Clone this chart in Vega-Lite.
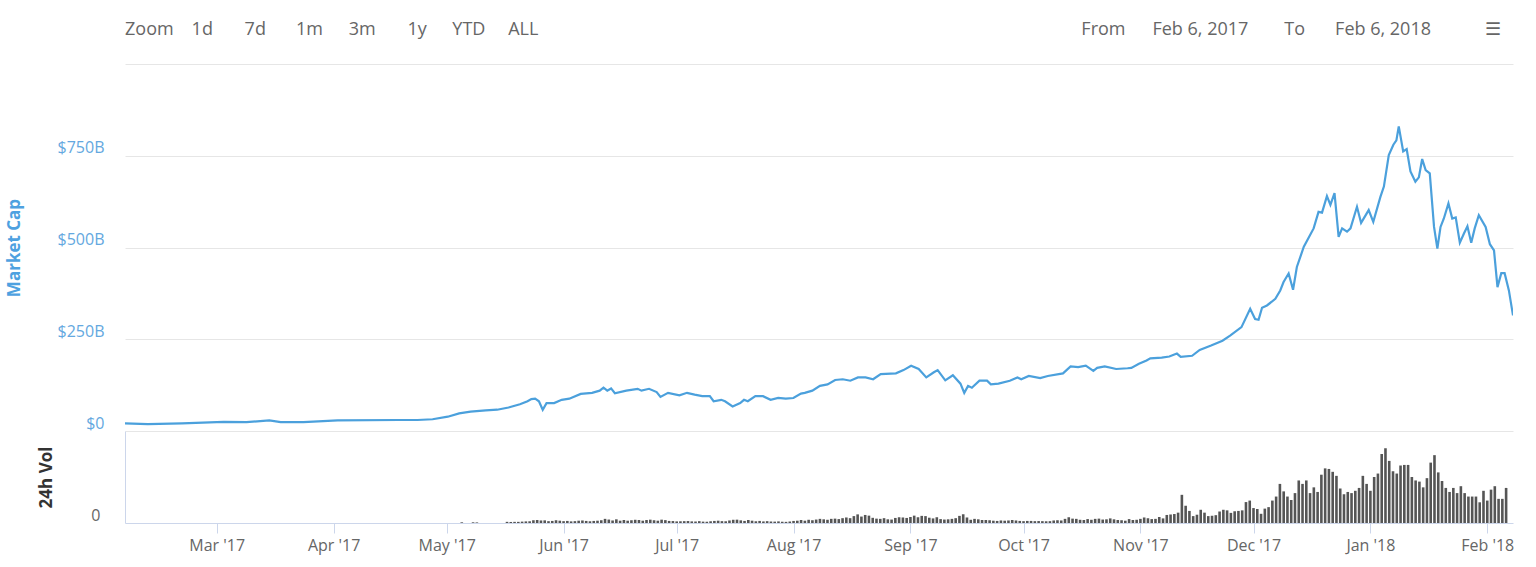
{
  "$schema": "https://vega.github.io/schema/vega-lite/v6.json",
  "background": "white",
  "padding": {"left": 5, "top": 21, "right": 10, "bottom": 5},
  "config": {"font": "Open Sans", "view": {"stroke": null}},
  "title": {
    "text": "Zoom\u20031d\u2003\u2002 7d\u2003\u2002\u20091m\u2003\u2009\u2009\u200a3m\u2003\u2002\u2009\u200a1y\u2003\u2009 YTD\u2003\u2009\u200aALL\u2003\u2003\u2003\u2003\u2003\u2003\u2003\u2003\u2003\u2003\u2003\u2003\u2003\u2003\u2003\u2003\u2003\u2003\u2003\u2003\u2003\u2003\u2003\u2003\u2003\u2003\u2003\u2003\u2003\u2003\u2009From\u2003\u2002Feb 6, 2017\u2003\u2003To\u2003\u2002\u2009Feb 6, 2018\u2003\u2003\u2002\u2002\u2630",
    "anchor": "start", "frame": "group", "fontSize": 18, "fontWeight": "normal", "color": "#666666", "offset": 25
  },
  "spacing": 0,
  "datasets": {
    "mcap": [
      {"d":"2017/02/06","c":21},{"d":"2017/02/12","c":19},{"d":"2017/02/21","c":21},{"d":"2017/03/04","c":25},
      {"d":"2017/03/10","c":24},{"d":"2017/03/16","c":29},{"d":"2017/03/19","c":24},{"d":"2017/03/25","c":24},
      {"d":"2017/04/03","c":29},{"d":"2017/04/19","c":30},{"d":"2017/04/24","c":30},{"d":"2017/04/28","c":32},
      {"d":"2017/05/02","c":39},{"d":"2017/05/05","c":48},{"d":"2017/05/08","c":53},{"d":"2017/05/12","c":56},
      {"d":"2017/05/15","c":58},{"d":"2017/05/18","c":64},{"d":"2017/05/21","c":73},{"d":"2017/05/23","c":81},
      {"d":"2017/05/24","c":87},{"d":"2017/05/25","c":88},{"d":"2017/05/26","c":81},{"d":"2017/05/27","c":58},
      {"d":"2017/05/28","c":76},{"d":"2017/05/30","c":76},{"d":"2017/06/01","c":85},{"d":"2017/06/03","c":88},
      {"d":"2017/06/06","c":101},{"d":"2017/06/09","c":104},{"d":"2017/06/11","c":110},{"d":"2017/06/12","c":118},
      {"d":"2017/06/13","c":110},{"d":"2017/06/14","c":116},{"d":"2017/06/15","c":103},{"d":"2017/06/18","c":110},
      {"d":"2017/06/21","c":115},{"d":"2017/06/22","c":110},{"d":"2017/06/24","c":115},{"d":"2017/06/26","c":106},
      {"d":"2017/06/27","c":93},{"d":"2017/06/29","c":104},{"d":"2017/07/02","c":97},{"d":"2017/07/04","c":104},
      {"d":"2017/07/06","c":99},{"d":"2017/07/08","c":95},{"d":"2017/07/10","c":95},{"d":"2017/07/11","c":81},
      {"d":"2017/07/13","c":85},{"d":"2017/07/14","c":81},{"d":"2017/07/16","c":67},{"d":"2017/07/18","c":76},
      {"d":"2017/07/19","c":85},{"d":"2017/07/20","c":81},{"d":"2017/07/22","c":95},{"d":"2017/07/24","c":95},
      {"d":"2017/07/26","c":85},{"d":"2017/07/28","c":90},{"d":"2017/07/30","c":88},{"d":"2017/08/01","c":90},
      {"d":"2017/08/03","c":102},{"d":"2017/08/04","c":104},{"d":"2017/08/06","c":110},{"d":"2017/08/08","c":123},
      {"d":"2017/08/10","c":127},{"d":"2017/08/12","c":139},{"d":"2017/08/14","c":141},{"d":"2017/08/16","c":137},
      {"d":"2017/08/18","c":146},{"d":"2017/08/20","c":146},{"d":"2017/08/22","c":141},{"d":"2017/08/24","c":155},
      {"d":"2017/08/28","c":157},{"d":"2017/08/30","c":166},{"d":"2017/09/01","c":178},{"d":"2017/09/03","c":169},
      {"d":"2017/09/05","c":146},{"d":"2017/09/07","c":160},{"d":"2017/09/08","c":166},{"d":"2017/09/10","c":138},
      {"d":"2017/09/12","c":152},{"d":"2017/09/14","c":129},{"d":"2017/09/15","c":104},{"d":"2017/09/16","c":123},
      {"d":"2017/09/17","c":118},{"d":"2017/09/19","c":137},{"d":"2017/09/21","c":137},{"d":"2017/09/22","c":127},
      {"d":"2017/09/24","c":129},{"d":"2017/09/27","c":137},{"d":"2017/09/29","c":146},{"d":"2017/09/30","c":141},
      {"d":"2017/10/02","c":150},{"d":"2017/10/05","c":144},{"d":"2017/10/07","c":150},{"d":"2017/10/11","c":157},
      {"d":"2017/10/13","c":176},{"d":"2017/10/15","c":174},{"d":"2017/10/17","c":178},{"d":"2017/10/19","c":164},
      {"d":"2017/10/20","c":172},{"d":"2017/10/22","c":176},{"d":"2017/10/25","c":169},{"d":"2017/10/28","c":171},
      {"d":"2017/10/29","c":172},{"d":"2017/10/31","c":183},{"d":"2017/11/02","c":192},{"d":"2017/11/03","c":198},
      {"d":"2017/11/06","c":200},{"d":"2017/11/08","c":203},{"d":"2017/11/10","c":211},{"d":"2017/11/11","c":202},
      {"d":"2017/11/14","c":205},{"d":"2017/11/16","c":221},{"d":"2017/11/19","c":233},{"d":"2017/11/22","c":246},
      {"d":"2017/11/24","c":260},{"d":"2017/11/27","c":283},{"d":"2017/11/29 07:00","c":333},{"d":"2017/11/30 14:00","c":305},
      {"d":"2017/12/01 12:00","c":303},{"d":"2017/12/02 10:00","c":336},{"d":"2017/12/03 17:00","c":342},{"d":"2017/12/05 22:00","c":360},
      {"d":"2017/12/07 05:00","c":383},{"d":"2017/12/08 02:00","c":406},{"d":"2017/12/09 10:00","c":429},{"d":"2017/12/10 14:00","c":385},
      {"d":"2017/12/11 14:00","c":447},{"d":"2017/12/13 10:00","c":502},{"d":"2017/12/16 00:00","c":552},{"d":"2017/12/17 07:00","c":597},
      {"d":"2017/12/18 05:00","c":595},{"d":"2017/12/19 12:00","c":640},{"d":"2017/12/20 10:00","c":616},{"d":"2017/12/21 12:00","c":648},
      {"d":"2017/12/22 14:00","c":529},{"d":"2017/12/23 12:00","c":552},{"d":"2017/12/24 19:00","c":543},{"d":"2017/12/25 17:00","c":552},
      {"d":"2017/12/27 10:00","c":611},{"d":"2017/12/28 12:00","c":567},{"d":"2017/12/30 12:00","c":602},{"d":"2017/12/31 17:00","c":570},
      {"d":"2018/01/02 14:00","c":638},{"d":"2018/01/03 12:00","c":666},{"d":"2018/01/04 19:00","c":752},{"d":"2018/01/06 00:00","c":780},
      {"d":"2018/01/06 19:00","c":792},{"d":"2018/01/07 10:00","c":830},{"d":"2018/01/08 14:00","c":762},{"d":"2018/01/09 12:00","c":768},
      {"d":"2018/01/10 12:00","c":707},{"d":"2018/01/11 19:00","c":679},{"d":"2018/01/12 17:00","c":691},{"d":"2018/01/13 14:00","c":741},
      {"d":"2018/01/14 12:00","c":711},{"d":"2018/01/15 14:00","c":702},{"d":"2018/01/16 17:00","c":556},{"d":"2018/01/17 14:00","c":497},
      {"d":"2018/01/18 10:00","c":556},{"d":"2018/01/19 07:00","c":579},{"d":"2018/01/20 12:00","c":620},{"d":"2018/01/21 12:00","c":579},
      {"d":"2018/01/22 10:00","c":582},{"d":"2018/01/23 12:00","c":513},{"d":"2018/01/24 14:00","c":538},{"d":"2018/01/25 12:00","c":558},
      {"d":"2018/01/26 12:00","c":513},{"d":"2018/01/27 10:00","c":552},{"d":"2018/01/28 12:00","c":588},{"d":"2018/01/30 07:00","c":556},
      {"d":"2018/01/31 10:00","c":509},{"d":"2018/02/01 12:00","c":492},{"d":"2018/02/02 10:00","c":392},{"d":"2018/02/03 10:00","c":430},
      {"d":"2018/02/04 07:00","c":430},{"d":"2018/02/05 10:00","c":383},{"d":"2018/02/06 12:00","c":315}
    ],
    "vol": [
      {"d":"2017/05/05","v":0.6},{"d":"2017/05/08","v":0.6},{"d":"2017/05/09","v":0.5},
      {"d":"2017/05/17","v":1.0},{"d":"2017/05/18","v":0.9},{"d":"2017/05/19","v":1.0},{"d":"2017/05/20","v":1.0},{"d":"2017/05/21","v":1.2},
      {"d":"2017/05/22","v":1.4},{"d":"2017/05/23","v":1.5},{"d":"2017/05/24","v":2.4},{"d":"2017/05/25","v":2.6},{"d":"2017/05/26","v":2.2},
      {"d":"2017/05/27","v":2.3},{"d":"2017/05/28","v":1.6},{"d":"2017/05/29","v":1.8},{"d":"2017/05/30","v":2.4},{"d":"2017/05/31","v":2.0},
      {"d":"2017/06/01","v":1.6},{"d":"2017/06/02","v":1.8},{"d":"2017/06/03","v":1.4},{"d":"2017/06/04","v":1.6},{"d":"2017/06/05","v":2.0},
      {"d":"2017/06/06","v":2.2},{"d":"2017/06/07","v":1.8},{"d":"2017/06/08","v":1.5},{"d":"2017/06/09","v":1.8},{"d":"2017/06/10","v":2.0},
      {"d":"2017/06/11","v":2.4},{"d":"2017/06/12","v":3.6},{"d":"2017/06/13","v":3.0},{"d":"2017/06/14","v":2.2},{"d":"2017/06/15","v":3.2},
      {"d":"2017/06/16","v":2.0},{"d":"2017/06/17","v":2.6},{"d":"2017/06/18","v":2.0},{"d":"2017/06/19","v":2.4},{"d":"2017/06/20","v":2.8},
      {"d":"2017/06/21","v":2.6},{"d":"2017/06/22","v":2.0},{"d":"2017/06/23","v":2.6},{"d":"2017/06/24","v":2.9},{"d":"2017/06/25","v":2.4},
      {"d":"2017/06/26","v":2.0},{"d":"2017/06/27","v":2.9},{"d":"2017/06/28","v":2.5},{"d":"2017/06/29","v":1.8},{"d":"2017/06/30","v":1.7},
      {"d":"2017/07/01","v":1.4},{"d":"2017/07/02","v":1.5},{"d":"2017/07/03","v":1.6},{"d":"2017/07/04","v":1.7},{"d":"2017/07/05","v":1.4},
      {"d":"2017/07/06","v":1.3},{"d":"2017/07/07","v":1.6},{"d":"2017/07/08","v":1.2},{"d":"2017/07/09","v":1.1},{"d":"2017/07/10","v":1.5},
      {"d":"2017/07/11","v":1.8},{"d":"2017/07/12","v":2.0},{"d":"2017/07/13","v":1.6},{"d":"2017/07/14","v":1.5},{"d":"2017/07/15","v":2.2},
      {"d":"2017/07/16","v":2.8},{"d":"2017/07/17","v":2.9},{"d":"2017/07/18","v":2.3},{"d":"2017/07/19","v":1.8},{"d":"2017/07/20","v":2.6},
      {"d":"2017/07/21","v":2.0},{"d":"2017/07/22","v":1.5},{"d":"2017/07/23","v":1.8},{"d":"2017/07/24","v":1.4},{"d":"2017/07/25","v":1.6},
      {"d":"2017/07/26","v":1.3},{"d":"2017/07/27","v":1.2},{"d":"2017/07/28","v":1.4},{"d":"2017/07/29","v":1.1},{"d":"2017/07/30","v":1.0},
      {"d":"2017/07/31","v":1.3},
      {"d":"2017/08/01","v":1.8},{"d":"2017/08/02","v":2.0},{"d":"2017/08/03","v":2.6},{"d":"2017/08/04","v":2.0},{"d":"2017/08/05","v":2.8},
      {"d":"2017/08/06","v":2.4},{"d":"2017/08/07","v":3.0},{"d":"2017/08/08","v":3.6},{"d":"2017/08/09","v":3.2},{"d":"2017/08/10","v":2.8},
      {"d":"2017/08/11","v":3.6},{"d":"2017/08/12","v":3.8},{"d":"2017/08/13","v":3.4},{"d":"2017/08/14","v":4.2},{"d":"2017/08/15","v":4.8},
      {"d":"2017/08/16","v":4.2},{"d":"2017/08/17","v":6.0},{"d":"2017/08/18","v":7.5},{"d":"2017/08/19","v":5.6},{"d":"2017/08/20","v":7.0},
      {"d":"2017/08/21","v":6.4},{"d":"2017/08/22","v":4.5},{"d":"2017/08/23","v":3.8},{"d":"2017/08/24","v":3.6},{"d":"2017/08/25","v":4.2},
      {"d":"2017/08/26","v":3.2},{"d":"2017/08/27","v":3.0},{"d":"2017/08/28","v":4.4},{"d":"2017/08/29","v":5.0},{"d":"2017/08/30","v":4.8},
      {"d":"2017/08/31","v":4.4},
      {"d":"2017/09/01","v":5.2},{"d":"2017/09/02","v":6.4},{"d":"2017/09/03","v":5.0},{"d":"2017/09/04","v":6.2},{"d":"2017/09/05","v":6.0},
      {"d":"2017/09/06","v":4.6},{"d":"2017/09/07","v":4.0},{"d":"2017/09/08","v":5.0},{"d":"2017/09/09","v":3.4},{"d":"2017/09/10","v":3.0},
      {"d":"2017/09/11","v":3.2},{"d":"2017/09/12","v":3.6},{"d":"2017/09/13","v":4.2},{"d":"2017/09/14","v":6.2},{"d":"2017/09/15","v":7.6},
      {"d":"2017/09/16","v":4.8},{"d":"2017/09/17","v":2.8},{"d":"2017/09/18","v":3.6},{"d":"2017/09/19","v":3.2},{"d":"2017/09/20","v":2.6},
      {"d":"2017/09/21","v":2.6},{"d":"2017/09/22","v":2.4},{"d":"2017/09/23","v":2.0},{"d":"2017/09/24","v":1.8},{"d":"2017/09/25","v":2.2},
      {"d":"2017/09/26","v":2.0},{"d":"2017/09/27","v":2.2},{"d":"2017/09/28","v":2.6},{"d":"2017/09/29","v":2.2},{"d":"2017/09/30","v":1.8},
      {"d":"2017/10/01","v":1.6},{"d":"2017/10/02","v":1.8},{"d":"2017/10/03","v":1.8},{"d":"2017/10/04","v":1.6},{"d":"2017/10/05","v":1.7},
      {"d":"2017/10/06","v":1.6},{"d":"2017/10/07","v":1.5},{"d":"2017/10/08","v":1.6},{"d":"2017/10/09","v":2.2},{"d":"2017/10/10","v":2.4},
      {"d":"2017/10/11","v":2.2},{"d":"2017/10/12","v":3.6},{"d":"2017/10/13","v":5.0},{"d":"2017/10/14","v":3.8},{"d":"2017/10/15","v":3.6},
      {"d":"2017/10/16","v":2.8},{"d":"2017/10/17","v":2.6},{"d":"2017/10/18","v":3.4},{"d":"2017/10/19","v":2.8},{"d":"2017/10/20","v":3.6},
      {"d":"2017/10/21","v":3.8},{"d":"2017/10/22","v":3.0},{"d":"2017/10/23","v":3.2},{"d":"2017/10/24","v":4.0},{"d":"2017/10/25","v":3.2},
      {"d":"2017/10/26","v":2.6},{"d":"2017/10/27","v":2.4},{"d":"2017/10/28","v":2.0},{"d":"2017/10/29","v":3.4},{"d":"2017/10/30","v":2.6},
      {"d":"2017/10/31","v":2.8},
      {"d":"2017/11/01","v":3.6},{"d":"2017/11/02","v":4.8},{"d":"2017/11/03","v":4.2},{"d":"2017/11/04","v":3.4},{"d":"2017/11/05","v":3.6},
      {"d":"2017/11/06","v":5.2},{"d":"2017/11/07","v":4.0},{"d":"2017/11/08","v":7.0},{"d":"2017/11/09","v":7.4},{"d":"2017/11/10","v":7.8},
      {"d":"2017/11/11","v":9.0},{"d":"2017/11/12","v":24.5},{"d":"2017/11/13","v":15.0},{"d":"2017/11/14","v":10.5},{"d":"2017/11/15","v":6.0},
      {"d":"2017/11/16","v":7.2},{"d":"2017/11/17","v":11.5},{"d":"2017/11/18","v":9.0},{"d":"2017/11/19","v":6.0},{"d":"2017/11/20","v":6.3},
      {"d":"2017/11/21","v":6.8},{"d":"2017/11/22","v":10.0},{"d":"2017/11/23","v":11.5},{"d":"2017/11/24","v":11.0},{"d":"2017/11/25","v":8.8},
      {"d":"2017/11/26","v":10.2},{"d":"2017/11/27","v":10.5},{"d":"2017/11/28","v":11.0},{"d":"2017/11/29","v":18.2},{"d":"2017/11/30","v":19.5},
      {"d":"2017/12/01","v":13.0},{"d":"2017/12/02","v":12.2},{"d":"2017/12/03","v":8.0},{"d":"2017/12/04","v":12.5},{"d":"2017/12/05","v":13.8},
      {"d":"2017/12/06","v":19.5},{"d":"2017/12/07","v":23.0},{"d":"2017/12/08","v":34.0},{"d":"2017/12/09","v":27.5},{"d":"2017/12/10","v":23.0},
      {"d":"2017/12/11","v":20.0},{"d":"2017/12/12","v":26.0},{"d":"2017/12/13","v":37.0},{"d":"2017/12/14","v":34.0},{"d":"2017/12/15","v":37.0},
      {"d":"2017/12/16","v":26.0},{"d":"2017/12/17","v":31.0},{"d":"2017/12/18","v":27.0},{"d":"2017/12/19","v":42.0},{"d":"2017/12/20","v":47.5},
      {"d":"2017/12/21","v":47.0},{"d":"2017/12/22","v":44.5},{"d":"2017/12/23","v":41.0},{"d":"2017/12/24","v":30.0},{"d":"2017/12/25","v":25.0},
      {"d":"2017/12/26","v":27.0},{"d":"2017/12/27","v":26.0},{"d":"2017/12/28","v":28.0},{"d":"2017/12/29","v":30.5},{"d":"2017/12/30","v":41.0},
      {"d":"2017/12/31","v":34.0},
      {"d":"2018/01/01","v":28.0},{"d":"2018/01/02","v":40.0},{"d":"2018/01/03","v":43.0},{"d":"2018/01/04","v":60.0},{"d":"2018/01/05","v":65.0},
      {"d":"2018/01/06","v":54.0},{"d":"2018/01/07","v":45.0},{"d":"2018/01/08","v":43.0},{"d":"2018/01/09","v":50.0},{"d":"2018/01/10","v":50.5},
      {"d":"2018/01/11","v":50.5},{"d":"2018/01/12","v":40.0},{"d":"2018/01/13","v":37.0},{"d":"2018/01/14","v":36.0},{"d":"2018/01/15","v":31.0},
      {"d":"2018/01/16","v":39.0},{"d":"2018/01/17","v":52.5},{"d":"2018/01/18","v":59.0},{"d":"2018/01/19","v":44.0},{"d":"2018/01/20","v":36.5},
      {"d":"2018/01/21","v":30.5},{"d":"2018/01/22","v":27.0},{"d":"2018/01/23","v":30.5},{"d":"2018/01/24","v":26.0},{"d":"2018/01/25","v":32.0},
      {"d":"2018/01/26","v":26.0},{"d":"2018/01/27","v":23.0},{"d":"2018/01/28","v":23.0},{"d":"2018/01/29","v":23.0},{"d":"2018/01/30","v":18.0},
      {"d":"2018/01/31","v":28.0},
      {"d":"2018/02/01","v":19.5},{"d":"2018/02/02","v":29.0},{"d":"2018/02/03","v":32.0},{"d":"2018/02/04","v":21.0},{"d":"2018/02/05","v":21.0},
      {"d":"2018/02/06","v":30.5}
    ]
  },
  "vconcat": [
    {
      "width": 1388,
      "height": 367,
      "data": {"name": "mcap"},
      "mark": {"type": "line", "color": "#4ba0dc", "strokeWidth": 2.2, "clip": true},
      "encoding": {
        "x": {
          "field": "d", "type": "temporal",
          "scale": {"domain": [{"year": 2017, "month": 2, "date": 6}, {"year": 2018, "month": 2, "date": 6, "hours": 12}], "nice": false},
          "axis": null
        },
        "y": {
          "field": "c", "type": "quantitative",
          "scale": {"domain": [0, 1000], "nice": false},
          "axis": {
            "values": [0, 250, 500, 750, 1000],
            "labelExpr": "datum.value == 0 ? '$0' : (datum.value >= 1000 ? '' : '$' + datum.value + 'B')",
            "labelColor": "#64a8e0", "labelFontSize": 16, "labelPadding": 21, "labelOffset": -8,
            "ticks": false, "domain": false, "grid": true, "gridColor": "#e6e6e6",
            "title": "Market Cap", "titleColor": "#4ea1e0", "titleFontSize": 17, "titleFontWeight": "bold",
            "titlePadding": 32, "minExtent": 70, "maxExtent": 70
          }
        }
      }
    },
    {
      "width": 1388,
      "height": 92,
      "data": {"name": "vol"},
      "mark": {"type": "bar", "color": "#555555", "width": 2.6, "clip": true},
      "encoding": {
        "x": {
          "field": "d", "type": "temporal",
          "scale": {"domain": [{"year": 2017, "month": 2, "date": 6}, {"year": 2018, "month": 2, "date": 6, "hours": 12}], "nice": false},
          "axis": {
            "format": "%b '%y", "tickCount": {"interval": "month", "step": 1},
            "labelColor": "#666666", "labelFontSize": 16, "labelPadding": 4, "labelFlush": false, "labelOverlap": false,
            "tickColor": "#ccd6eb", "tickSize": 10, "domainColor": "#ccd6eb", "grid": false, "title": null
          }
        },
        "y": {
          "field": "v", "type": "quantitative",
          "scale": {"domain": [0, 80], "nice": false},
          "axis": {
            "values": [0], "labelColor": "#666666", "labelFontSize": 16, "labelPadding": 25, "labelOffset": -8,
            "ticks": false, "domain": true, "domainColor": "#ccd6eb", "grid": false,
            "title": "24h Vol", "titleColor": "#333333", "titleFontSize": 17, "titleFontWeight": "bold",
            "titlePadding": 30, "minExtent": 40, "maxExtent": 40
          }
        }
      }
    }
  ]
}
